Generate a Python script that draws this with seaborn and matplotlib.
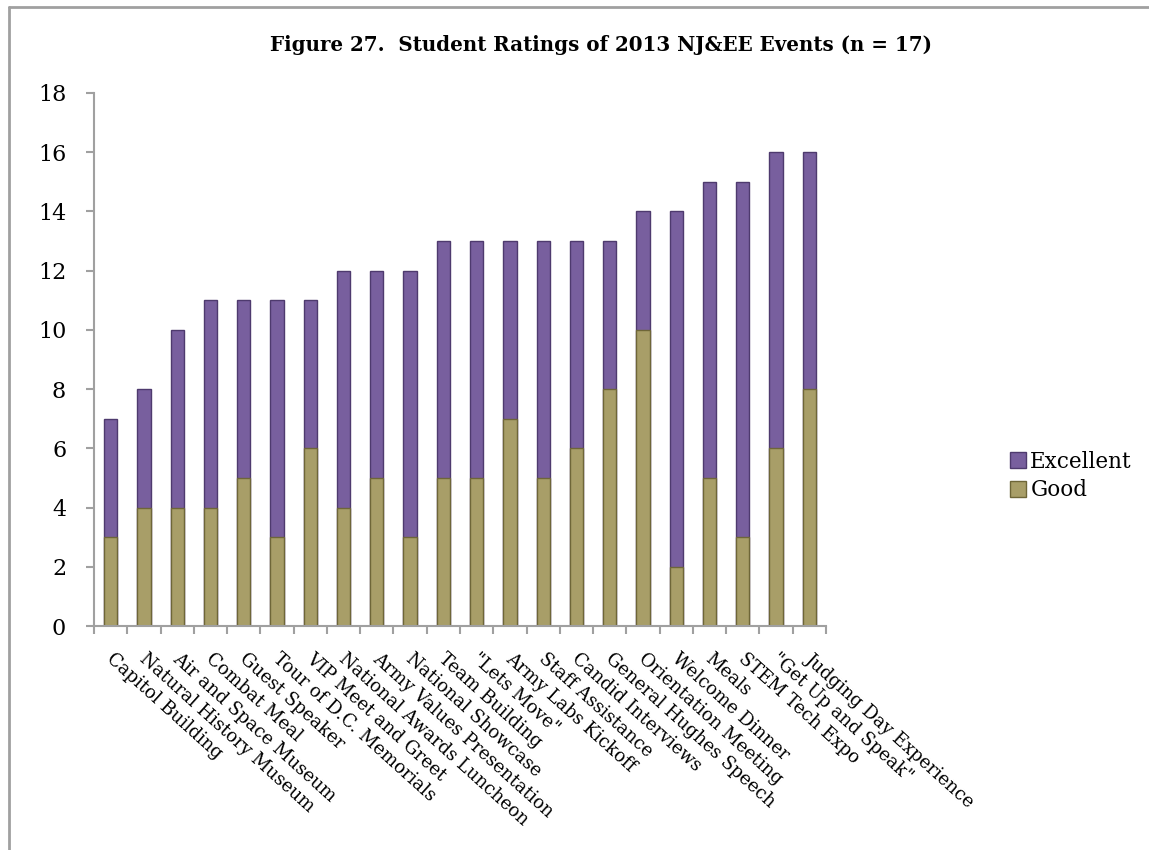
import matplotlib
matplotlib.use("Agg")
import matplotlib.pyplot as plt
import matplotlib.transforms as mtransforms
from matplotlib.lines import Line2D
import seaborn as sns
import pandas as pd

events = [
    "Capitol Building", "Natural History Museum", "Air and Space Museum",
    "Combat Meal", "Guest Speaker", "Tour of D.C. Memorials",
    "VIP Meet and Greet", "National Awards Luncheon",
    "Army Values Presentation", "National Showcase", "Team Building",
    "\"Lets Move\"", "Army Labs Kickoff", "Staff Assistance",
    "Candid Interviews", "General Hughes Speech", "Orientation Meeting",
    "Welcome Dinner", "Meals", "STEM Tech Expo", "\"Get Up and Speak\"",
    "Judging Day Experience",
]
good = [3, 4, 4, 4, 5, 3, 6, 4, 5, 3, 5, 5, 7, 5, 6, 8, 10, 2, 5, 3, 6, 8]
excellent = [4, 4, 6, 7, 6, 8, 5, 8, 7, 9, 8, 8, 6, 8, 7, 5, 4, 12, 10, 12, 10, 8]
y_ticks = [0, 2, 4, 6, 8, 10, 12, 14, 16, 18]

df = pd.DataFrame({"event": events, "Good": good, "Excellent": excellent})
df["total"] = df["Good"] + df["Excellent"]

PURPLE = "#785f9e"
PURPLE_EDGE = "#4e3a6e"
OLIVE = "#a89e68"
OLIVE_EDGE = "#6e6638"
AXIS_GRAY = "#a0a0a0"
FONT = "DejaVu Serif"

sns.set_theme(style="white")
plt.rcParams["font.family"] = [FONT]
plt.rcParams["text.color"] = "black"
plt.rcParams["xtick.color"] = "black"
plt.rcParams["ytick.color"] = "black"

fig = plt.figure(figsize=(11.49, 8.5), dpi=100)
ax = fig.add_axes([0.0818, 0.2635, 0.6371, 0.6271])

# stacked bars: the full height in purple, the "Good" part drawn over it
sns.barplot(data=df, x="event", y="total", color=PURPLE, width=0.4,
            edgecolor=PURPLE_EDGE, linewidth=1.0, saturation=1, ax=ax)
sns.barplot(data=df, x="event", y="Good", color=OLIVE, width=0.4,
            edgecolor=OLIVE_EDGE, linewidth=1.0, saturation=1, ax=ax)

ax.set_xlim(-0.5, len(events) - 0.5)
ax.set_ylim(0, 18)
ax.set_yticks(y_ticks)
ax.set_yticklabels([str(v) for v in y_ticks], fontsize=16, color="black")
ax.set_xlabel("")
ax.set_ylabel("")

for side in ["top", "right"]:
    ax.spines[side].set_visible(False)
for side in ["left", "bottom"]:
    ax.spines[side].set_color(AXIS_GRAY)
    ax.spines[side].set_linewidth(1.5)

ax.tick_params(axis="y", which="major", direction="out", length=6,
               width=1.5, color=AXIS_GRAY, left=True, pad=14)
ax.set_xticks([i - 0.5 for i in range(len(events) + 1)], minor=True)
ax.tick_params(axis="x", which="minor", direction="out", length=6,
               width=1.5, color=AXIS_GRAY, bottom=True)
ax.tick_params(axis="x", which="major", length=0, pad=0)

ax.set_xticks(range(len(events)))
ax.set_xticklabels(events, fontsize=13, rotation=-42, ha="left",
                   va="top", rotation_mode="anchor", color="black")
shift = mtransforms.ScaledTranslation(4 / 100, -24 / 100, fig.dpi_scale_trans)
for lbl in ax.get_xticklabels():
    lbl.set_transform(lbl.get_transform() + shift)

fig.text(0.523, 0.947, "Figure 27.  Student Ratings of 2013 NJ&EE Events (n = 17)",
         ha="center", va="center", fontsize=14.3, fontweight="bold", color="black")

handles = [
    Line2D([], [], marker="s", linestyle="none", markersize=12,
           markerfacecolor=PURPLE, markeredgecolor=PURPLE_EDGE, label="Excellent"),
    Line2D([], [], marker="s", linestyle="none", markersize=12,
           markerfacecolor=OLIVE, markeredgecolor=OLIVE_EDGE, label="Good"),
]
fig.legend(handles=handles, loc="center left", bbox_to_anchor=(0.862, 0.44),
           frameon=False, fontsize=15.5, handletextpad=0.15, labelspacing=0.3,
           handlelength=0.8)

# chart frame: left and top edges
fig.add_artist(Line2D([0.008, 0.008], [0.0, 0.992], transform=fig.transFigure,
                      color=AXIS_GRAY, linewidth=2))
fig.add_artist(Line2D([0.008, 1.0], [0.992, 0.992], transform=fig.transFigure,
                      color=AXIS_GRAY, linewidth=2))

fig.savefig("out.png", dpi=100)
